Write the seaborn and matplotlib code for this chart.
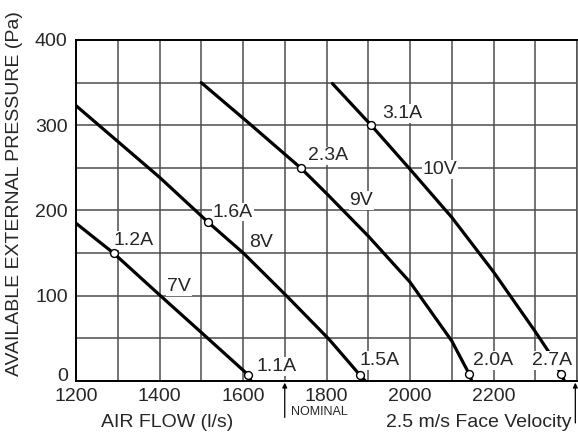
import matplotlib
matplotlib.use("Agg")
import matplotlib.pyplot as plt
import matplotlib.transforms as mtransforms
import seaborn as sns
import pandas as pd
from matplotlib.ticker import MultipleLocator

# ---- data ----
v7_x = [1200, 1290, 1400, 1500, 1613, 1619]
v7_y = [185, 150, 101, 57, 7, 0]
v8_x = [1200, 1300, 1400, 1517, 1601, 1706, 1806, 1880, 1893]
v8_y = [323, 281, 239, 186, 150, 99, 49, 7, 0]
v9_x = [1500, 1620, 1738, 1800, 1900, 2000, 2100, 2142, 2148]
v9_y = [350, 300, 250, 220, 170, 116, 47, 8, 0]
v10_x = [1814, 1907, 1999, 2100, 2200, 2300, 2334, 2362, 2370]
v10_y = [349, 300, 249, 192, 128, 58, 33, 8, 0]

amp_x = [1290, 1613, 1517, 1880, 1738, 2142, 1907, 2362]
amp_y = [150, 7, 186, 7, 250, 8, 300, 8]
amp_labels = ["1.2A", "1.1A", "1.6A", "1.5A", "2.3A", "2.0A", "3.1A", "2.7A"]
amp_label_pos = [(1290, 165), (1633, 17), (1528, 198), (1880, 24),
                 (1755, 264), (2152, 24), (1934, 314), (2293, 24)]

volt_labels = ["7V", "8V", "9V", "10V"]
volt_label_pos = [(1418, 111), (1614, 162), (1855, 212), (2030, 248)]

x_ticks = [1200, 1400, 1600, 1800, 2000, 2200]
y_ticks = [0, 100, 200, 300, 400]
nominal_x = 1700
face_vel_x = 2400

curves = pd.concat([
    pd.DataFrame({"flow": v7_x, "pressure": v7_y, "curve": "7V"}),
    pd.DataFrame({"flow": v8_x, "pressure": v8_y, "curve": "8V"}),
    pd.DataFrame({"flow": v9_x, "pressure": v9_y, "curve": "9V"}),
    pd.DataFrame({"flow": v10_x, "pressure": v10_y, "curve": "10V"}),
])
amps = pd.DataFrame({"flow": amp_x, "pressure": amp_y})

# ---- style ----
sns.set_style("white")
plt.rcParams["font.family"] = ["Liberation Sans", "DejaVu Sans"]
FS = 14

fig = plt.figure(figsize=(5.78, 4.36), dpi=100)
ax = fig.add_axes([76 / 578, 55 / 436, 501 / 578, 341 / 436])

sns.lineplot(data=curves, x="flow", y="pressure", units="curve", estimator=None,
             sort=False, color="black", linewidth=2.3, ax=ax, zorder=3)
sns.scatterplot(data=amps, x="flow", y="pressure", s=32, color="white",
                edgecolor="black", linewidth=1.0, ax=ax, zorder=5)

ax.set_xlim(1200, 2400)
ax.set_ylim(0, 400)
ax.set_xticks(x_ticks)
ax.set_yticks(y_ticks)
ax.xaxis.set_minor_locator(MultipleLocator(100))
ax.yaxis.set_minor_locator(MultipleLocator(50))
ax.grid(True, which="both", color="#4d4d4d", linewidth=1.1)
ax.set_axisbelow(True)
ax.tick_params(axis="x", which="both", length=0, labelsize=FS, pad=5)
ax.tick_params(axis="y", which="major", length=4, width=1, color="black", labelsize=FS, pad=2)
ax.tick_params(axis="y", which="minor", length=0)
ax.set_xlabel("")
ax.set_ylabel("")
for side in ["left", "bottom", "top"]:
    ax.spines[side].set_color("black")
    ax.spines[side].set_linewidth(1.4)
ax.spines["right"].set_color("#4d4d4d")
ax.spines["right"].set_linewidth(1.1)

bbox = dict(facecolor="white", edgecolor="none", pad=0.6)
for (lx, ly), t in zip(amp_label_pos, amp_labels):
    ax.text(lx, ly, t, fontsize=FS, ha="left", va="center", bbox=bbox, zorder=4)
for (lx, ly), t in zip(volt_label_pos, volt_labels):
    ax.text(lx, ly, t, fontsize=FS, ha="left", va="center", bbox=bbox, zorder=4)

# arrows below axis
ax.annotate("", xy=(nominal_x, -2), xycoords="data", xytext=(nominal_x, -25),
            textcoords=("data", "offset points"),
            arrowprops=dict(arrowstyle="-|>", color="black", lw=0.9, mutation_scale=7,
                            shrinkA=0, shrinkB=0), annotation_clip=False)
ax.annotate("", xy=(face_vel_x - 4, -2), xycoords="data", xytext=(face_vel_x - 4, -29),
            textcoords=("data", "offset points"),
            arrowprops=dict(arrowstyle="-|>", color="black", lw=0.9, mutation_scale=7,
                            shrinkA=0, shrinkB=0), annotation_clip=False)

fig.text(291 / 578, 1 - 412 / 436, "NOMINAL", fontsize=9, ha="left", va="center")
fig.text(167 / 578, 1 - 422 / 436, "AIR FLOW (l/s)", fontsize=FS, ha="center", va="center")
fig.text(571 / 578, 1 - 422 / 436, "2.5 m/s Face Velocity", fontsize=FS, ha="right", va="center")
fig.text(15 / 578, 1 - 194 / 436, "AVAILABLE EXTERNAL PRESSURE (Pa)", fontsize=FS,
         rotation=90, ha="center", va="center")

# lift the "0" tick label slightly, as in the reference
zero_tick = ax.yaxis.get_major_ticks()[0]
zero_tick.label1.set_transform(zero_tick.label1.get_transform() +
                               mtransforms.ScaledTranslation(0, 5 / 72, fig.dpi_scale_trans))

fig.savefig("out.png", dpi=100)
